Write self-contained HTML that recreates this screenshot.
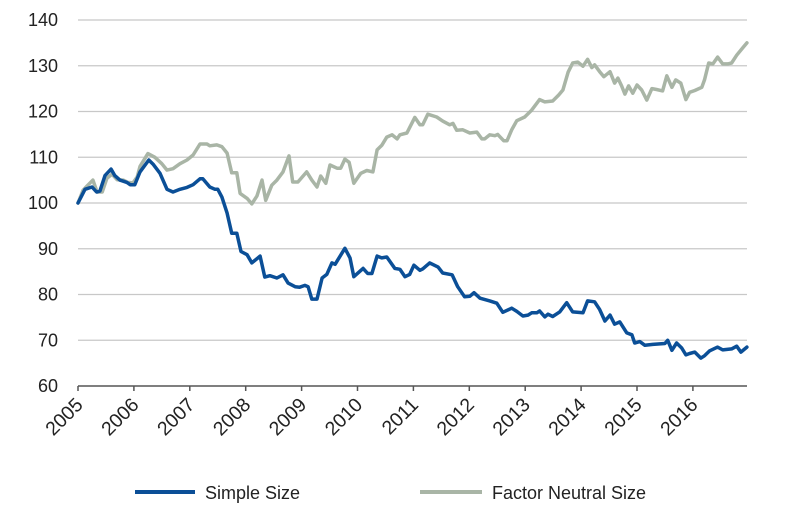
<!DOCTYPE html>
<html><head><meta charset="utf-8"><style>
body{margin:0;background:#fff;}
svg{display:block;font-family:"Liberation Sans",Arial,sans-serif;}
</style></head><body>
<svg id="chart" width="800" height="531" viewBox="0 0 800 531">
<g id="grid"></g>
<g id="yaxis"></g>
<g id="xaxis"></g>
<g id="series"></g>
<g>
<line x1="135" y1="492" x2="195" y2="492" stroke="#0b4f97" stroke-width="4"/>
<text x="205" y="499" font-size="18" fill="#222">Simple Size</text>
<line x1="420" y1="492" x2="482" y2="492" stroke="#a9b5a6" stroke-width="4"/>
<text x="492" y="499" font-size="18" fill="#222">Factor Neutral Size</text>
</g>
</svg>
<script>
const yTicks=[60,70,80,90,100,110,120,130,140];
const xTickLabels=["2005","2006","2007","2008","2009","2010","2011","2012","2013","2014","2015","2016"];
const simpleMonths=[0,1.5,3,4,4.7,5.8,7.1,7.9,9,10.5,11.2,12.2,13.3,15.2,16.1,17.6,19.1,20.4,21.9,23.4,24.7,26.2,26.8,28.3,29.4,30,30.9,32,33,34.1,35,36.3,37.3,39.1,40.1,41.2,42.7,44,45.1,46.6,47.6,48.7,49.4,50.2,51.3,52.4,53.4,54.5,55.2,57.3,58.4,59.2,61.2,62.2,63.1,64.2,65.2,66.3,68,69.1,70.2,71.2,72.1,73.4,74,75.5,77.3,78.3,80.3,81.5,83,84.1,85,86.3,88.4,89.9,91.2,93.1,94.2,95.5,96.6,97.4,98.5,99.1,100.2,100.9,101.9,103.4,104.9,106.2,108.4,109.4,110.9,112,113.1,114.2,115.2,116.3,117.8,118.9,119.5,120.6,121.7,123.4,126,126.6,127.5,128.5,129.6,130.5,131.3,132.4,133.7,134.5,135.6,137.3,138.4,140.3,141.4,142.3,143.6];
const simpleValues=[100,103,103.5,102.4,102.6,106,107.4,106,105,104.5,104,104,106.8,109.4,108.5,106.5,103,102.4,103,103.4,104,105.3,105.3,103.5,103,103,101.3,97.8,93.4,93.4,89.4,88.7,86.9,88.4,83.8,84.1,83.6,84.3,82.5,81.7,81.6,82,81.7,79,79,83.6,84.4,86.9,86.6,90.1,88,83.9,85.7,84.6,84.6,88.4,88,88.2,85.7,85.5,83.9,84.4,86.4,85.3,85.6,86.9,86,84.7,84.3,81.7,79.5,79.6,80.4,79.2,78.6,78.1,76.1,77,76.3,75.3,75.5,76,76,76.4,75.1,75.7,75.2,76.2,78.2,76.2,76,78.6,78.4,76.7,74.2,75.5,73.5,74,71.6,71.2,69.4,69.7,68.9,69.1,69.3,70,67.8,69.4,68.3,66.8,67.1,67.4,66.1,66.6,67.7,68.5,67.9,68.1,68.7,67.4,68.5];
const neutralMonths=[0,1.1,2.1,3.2,4.1,5.2,6.2,7.3,8.4,9.7,10.7,11.8,12.7,13.3,15,16.5,18,19.1,20.4,21.9,23.4,24.7,26.2,27.7,28.3,29.8,30.9,32,33,34.1,34.8,36.3,37.3,38.4,39.5,40.3,41.6,42.7,44,45.3,46.1,47.2,49.1,50.2,51.3,52.1,53.2,54.1,55.6,56.4,57.3,58.2,59.2,60.7,62,63.3,64.2,65.2,66.3,67.4,68.5,69.1,70.6,72.3,73.4,74,75.1,77,78.3,79.8,80.5,81.3,82.6,84.1,85.6,86.7,87.3,88.4,89.5,90.1,91.4,92.1,93.1,94.2,95.9,97.4,99.1,100.2,101.9,103.2,104.1,105.2,106.2,107.3,108.4,109.4,110.3,110.9,112,112.9,114.2,115.2,115.9,116.7,117.4,118.2,119.1,120,121,122.1,123.2,124.2,125.5,126.4,127.5,128.3,129.4,130.5,131.3,132.4,133.9,134.5,135.4,136.3,137.3,138.4,139.5,140.3,141.4,142.7,143.6];
const neutralValues=[100,102.8,103.9,105,102.4,102.4,105.4,106.3,105.1,105,104.5,104.4,105.7,108,110.8,110,108.6,107.2,107.5,108.6,109.4,110.5,112.9,112.9,112.5,112.7,112.3,110.9,106.6,106.6,102.1,101,99.8,101.5,105,100.6,103.9,105,106.8,110.3,104.6,104.6,106.8,105,103.5,105.9,104.3,108.3,107.6,107.6,109.6,108.9,104.3,106.5,107.1,106.8,111.6,112.6,114.4,114.9,114,114.9,115.3,118.7,117.1,117.1,119.4,118.8,117.9,117.1,117.4,115.9,116,115.3,115.5,114,114,114.9,114.7,115,113.6,113.6,116,118,118.8,120.3,122.6,122.1,122.3,123.6,124.7,128.6,130.6,130.8,129.9,131.4,129.6,130.2,128.7,127.6,128.7,126.2,127.3,125.6,123.8,125.6,124,125.8,124.7,122.5,125,124.8,124.5,127.8,125.3,126.9,126.2,122.6,124.2,124.6,125.3,126.9,130.6,130.4,131.9,130.4,130.4,130.6,132.3,133.9,135];

const NS="http://www.w3.org/2000/svg";
const X0=78,X1=747,Y0=386,Y1=20;
const monthPx=55.9/12;
function xScale(m){return X0+m*monthPx;}
function yScale(v){return Y0-(v-60)/(140-60)*(Y0-Y1);}
function mk(tag,attrs,parent){const e=document.createElementNS(NS,tag);for(const k in attrs)e.setAttribute(k,attrs[k]);parent.appendChild(e);return e;}

const grid=document.getElementById('grid'),yax=document.getElementById('yaxis'),xax=document.getElementById('xaxis'),ser=document.getElementById('series');
yTicks.forEach(v=>{
  const y=yScale(v);
  if(v>60){const g=mk('line',{x1:X0,x2:X1,y1:y,y2:y,stroke:'#c8c8c8','stroke-width':1.2},grid);
  
  }
  const t=mk('text',{x:58,y:y+6,'text-anchor':'end','font-size':18,fill:'#222'},yax);
  t.textContent=v;
  
  
});
const ax=mk('line',{x1:X0,x2:X1,y1:Y0,y2:Y0,stroke:'#555','stroke-width':1.5},xax);


xTickLabels.forEach((lab,i)=>{
  const x=xScale(i*12);
  const tk=mk('line',{x1:x,x2:x,y1:Y0,y2:Y0+5,stroke:'#555','stroke-width':1.5},xax);
  
  
  const tx=x+6,ty=Y0+20;
  const t=mk('text',{x:tx,y:ty,'text-anchor':'end','font-size':19.5,fill:'#222',transform:'rotate(-45 '+tx+' '+ty+')'},xax);
  t.textContent=lab;
  
  
});
function line(ms,vs,color,name){
  const d=ms.map((m,i)=>(i?'L':'M')+xScale(m).toFixed(1)+','+yScale(vs[i]).toFixed(1)).join('');
  const p=mk('path',{d:d,fill:'none',stroke:color,'stroke-width':3.5,'stroke-linejoin':'round','stroke-linecap':'round'},ser);
  
  
}
line(neutralMonths,neutralValues,'#a9b5a6','line-factor-neutral-size');
line(simpleMonths,simpleValues,'#0b4f97','line-simple-size');
</script>
</body></html>
